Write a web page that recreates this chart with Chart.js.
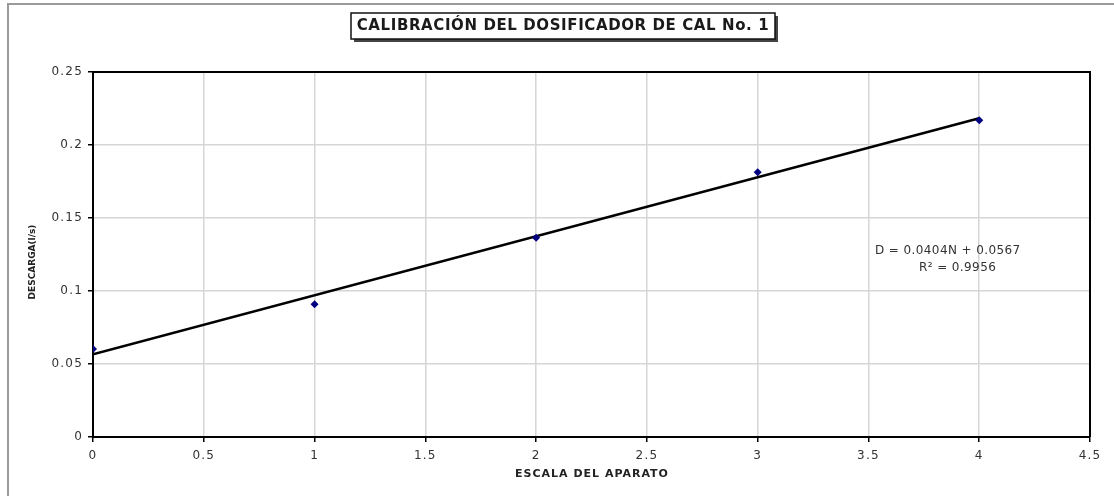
<!DOCTYPE html>
<html>
<head>
<meta charset="utf-8">
<script src="https://cdn.jsdelivr.net/npm/chart.js@4.4.1/dist/chart.umd.min.js"></script>
<style>
    body { margin: 0; background: #fff; }
    #wrap { position: relative; width: 1114px; height: 496px; }
    #marco { position: absolute; left: 7px; top: 3px; width: 1200px; height: 600px;
             border-left: 2px solid #9a9a9a; border-top: 2px solid #9a9a9a; pointer-events: none; }
</style>
</head>
<body>
<div id="wrap">
    <canvas id="grafico" width="1114" height="496"></canvas>
    <div id="marco"></div>
</div>
<script>
// Datos
const escala = [0, 1, 2, 3, 4];
const descarga = [0.0603, 0.0909, 0.1365, 0.1813, 0.2169];
const tendenciaX = [0, 4];
const tendenciaY = [0.0567, 0.2183];
const ticksX = [0, 0.5, 1, 1.5, 2, 2.5, 3, 3.5, 4, 4.5];
const ticksY = [0, 0.05, 0.1, 0.15, 0.2, 0.25];

const titulo = 'CALIBRACIÓN DEL DOSIFICADOR DE CAL No. 1';
const tituloX = 'ESCALA DEL APARATO';
const tituloY = 'DESCARGA(l/s)';
const ecuacion = 'D = 0.0404N + 0.0567';
const r2 = 'R² = 0.9956';

// Textos, marco del area y recuadro del titulo
const decoracion = {
    id: 'decoracion',
    beforeDraw(chart) {
        // etiquetas de los ejes un poco mas espaciadas
        chart.ctx.letterSpacing = '1.2px';
    },
    afterDraw(chart) {
        const ctx = chart.ctx;
        const a = chart.chartArea;
        ctx.letterSpacing = '0px';
        ctx.save();

        // borde superior y derecho del area
        ctx.strokeStyle = '#000';
        ctx.lineWidth = 2;
        ctx.beginPath();
        ctx.moveTo(a.left, a.top);
        ctx.lineTo(a.right, a.top);
        ctx.lineTo(a.right, a.bottom);
        ctx.stroke();

        // recuadro del titulo con sombra
        ctx.fillStyle = '#444';
        ctx.fillRect(354, 16, 424, 26);
        ctx.fillStyle = '#fff';
        ctx.fillRect(351, 13, 424, 26);
        ctx.strokeStyle = '#111';
        ctx.lineWidth = 1.5;
        ctx.strokeRect(351, 13, 424, 26);
        ctx.fillStyle = '#1a1a1a';
        ctx.font = 'bold 15px "DejaVu Sans"';
        ctx.letterSpacing = '0.6px';
        ctx.textAlign = 'center';
        ctx.textBaseline = 'middle';
        ctx.fillText(titulo, 563, 26.5);

        // titulo eje x
        ctx.font = 'bold 11px "DejaVu Sans"';
        ctx.letterSpacing = '1px';
        ctx.fillStyle = '#222';
        ctx.fillText(tituloX, 592, 474);

        // titulo eje y
        ctx.save();
        ctx.translate(33, 262);
        ctx.rotate(-Math.PI / 2);
        ctx.font = 'bold 9px "DejaVu Sans"';
        ctx.letterSpacing = '0px';
        ctx.fillText(tituloY, 0, 0);
        ctx.restore();

        // ecuacion de la linea de tendencia
        ctx.font = '12px "DejaVu Sans"';
        ctx.letterSpacing = '0.4px';
        ctx.fillStyle = '#333';
        ctx.textAlign = 'left';
        ctx.fillText(ecuacion, 875, 251);
        ctx.fillText(r2, 919, 268);

        ctx.restore();
        ctx.letterSpacing = '0px';
    }
};

new Chart(document.getElementById('grafico'), {
    type: 'scatter',
    data: {
        datasets: [{
            data: escala.map((x, i) => ({ x: x, y: descarga[i] })),
            pointStyle: 'rectRot',
            pointRadius: 4,
            backgroundColor: '#000080',
            borderColor: '#000080',
            borderWidth: 0,
            order: 0
        }, {
            type: 'line',
            data: tendenciaX.map((x, i) => ({ x: x, y: tendenciaY[i] })),
            borderColor: '#000',
            borderWidth: 2.5,
            pointRadius: 0,
            fill: false,
            order: 1
        }]
    },
    plugins: [decoracion],
    options: {
        responsive: false,
        animation: false,
        events: [],
        layout: { padding: { left: 0, top: 72, right: 24, bottom: 0 } },
        plugins: {
            legend: { display: false },
            tooltip: { enabled: false }
        },
        scales: {
            x: {
                type: 'linear',
                min: 0,
                max: 4.5,
                afterBuildTicks: s => { s.ticks = ticksX.map(v => ({ value: v })); },
                afterFit: s => { s.height = 59; },
                grid: { color: '#d6d6d6', lineWidth: 1.5, tickColor: '#000', tickLength: 5 },
                border: { color: '#000', width: 2 },
                ticks: {
                    color: '#333', font: { family: 'DejaVu Sans', size: 12 }, padding: 7, maxRotation: 0,
                    callback: v => String(v)
                }
            },
            y: {
                min: 0,
                max: 0.25,
                afterBuildTicks: s => { s.ticks = ticksY.map(v => ({ value: v })); },
                afterFit: s => { s.width = 93; },
                grid: { color: '#d6d6d6', lineWidth: 1.5, tickColor: '#000', tickLength: 5 },
                border: { color: '#000', width: 2 },
                ticks: {
                    color: '#333', font: { family: 'DejaVu Sans', size: 12 }, padding: 5,
                    callback: v => String(v)
                }
            }
        }
    }
});
</script>
</body>
</html>
